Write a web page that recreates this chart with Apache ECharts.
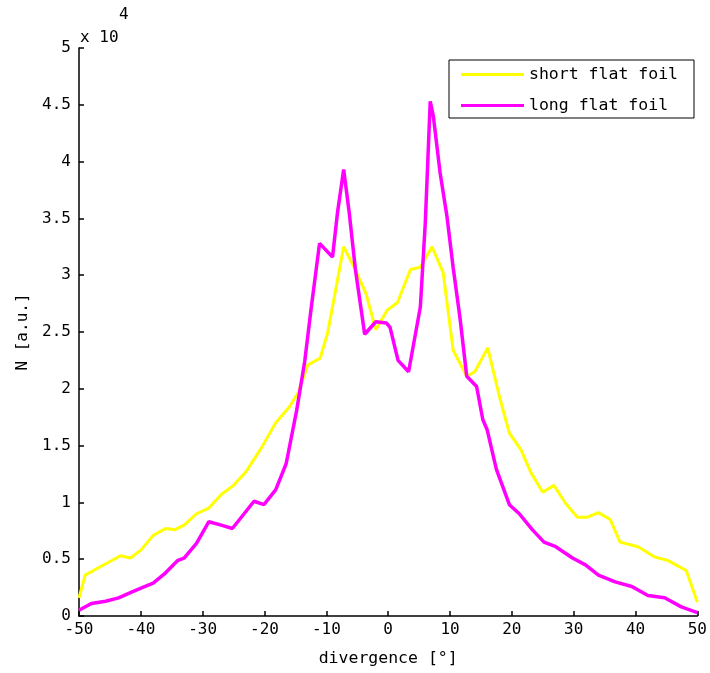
<!DOCTYPE html>
<html>
<head>
<meta charset="utf-8">
<script src="https://cdn.jsdelivr.net/npm/echarts@6/dist/echarts.min.js"></script>
<style>html,body{margin:0;padding:0;background:#fff;}#c{width:710px;height:673px;}</style>
</head>
<body>
<div id="c"></div>
<script>
// divergence [deg] and N [a.u.] in units of 1e4
const shortFlatFoil = [[-50,0.16],[-49,0.36],[-47,0.42],[-45,0.48],[-43.3,0.53],[-41.7,0.51],[-40,0.58],[-38,0.71],[-36,0.77],[-34.5,0.76],[-33,0.80],[-31,0.90],[-29,0.95],[-27,1.07],[-25,1.15],[-23,1.27],[-20.5,1.48],[-18.2,1.70],[-16,1.84],[-14.6,1.96],[-13,2.21],[-11,2.27],[-9.8,2.49],[-8.7,2.81],[-7.2,3.25],[-5.5,3.07],[-3.6,2.84],[-2,2.52],[-0.2,2.69],[1.5,2.76],[3.6,3.05],[5.2,3.07],[7.1,3.25],[8.9,3.02],[10.5,2.34],[12.7,2.11],[14,2.15],[16.1,2.36],[18,1.93],[19.6,1.61],[21.5,1.46],[23.1,1.26],[25,1.09],[26.8,1.15],[28.7,0.99],[30.6,0.87],[32.2,0.87],[34,0.91],[35.9,0.85],[37.5,0.65],[40.4,0.61],[43.1,0.52],[45.2,0.49],[48.2,0.40],[50,0.12]];
const longFlatFoil = [[-50,0.05],[-48,0.11],[-45.7,0.13],[-43.6,0.16],[-41.5,0.21],[-39.3,0.26],[-38,0.29],[-36,0.38],[-34,0.49],[-33,0.51],[-31,0.64],[-29,0.83],[-27,0.80],[-25.2,0.77],[-23.3,0.90],[-21.7,1.01],[-20.1,0.98],[-18.2,1.11],[-16.5,1.34],[-14.8,1.81],[-13.5,2.24],[-12.5,2.69],[-11.1,3.28],[-9,3.16],[-8.2,3.55],[-7.2,3.93],[-6.3,3.55],[-5.3,3.05],[-3.8,2.48],[-2,2.59],[-0.3,2.58],[0.3,2.54],[1.6,2.25],[3.3,2.15],[5.2,2.72],[6,3.46],[6.8,4.53],[7.3,4.40],[8.4,3.90],[9.5,3.52],[10.5,3.07],[11.6,2.63],[12.7,2.11],[14.3,2.02],[15.3,1.73],[16,1.64],[17.5,1.29],[19.6,0.98],[21.2,0.90],[23.3,0.76],[25.2,0.65],[27.1,0.61],[29.8,0.51],[31.9,0.45],[34,0.36],[36.7,0.30],[39.4,0.26],[42,0.18],[44.7,0.16],[47.4,0.08],[50,0.03]];
const seriesNames = ['short flat foil', 'long flat foil'];
const xAxisTitle = 'divergence [°]';
const yAxisTitle = 'N [a.u.]';

const FONT = '"DejaVu Sans Mono", monospace';
const chart = echarts.init(document.getElementById('c'), null, {renderer: 'canvas'});
chart.setOption({
  animation: false,
  backgroundColor: '#fff',
  grid: {left: 79, right: 7, top: 48, bottom: 57, containLabel: false},
  xAxis: {
    type: 'value', min: -50, max: 50, interval: 10,
    name: xAxisTitle, nameLocation: 'middle', nameGap: 34,
    nameTextStyle: {fontFamily: FONT, fontSize: 16.5, color: '#000'},
    axisLine: {show: true, onZero: false, lineStyle: {color: '#000', width: 1.5}},
    axisTick: {show: true, inside: true, length: 5, lineStyle: {color: '#000', width: 1.5}},
    axisLabel: {fontFamily: FONT, fontSize: 16, color: '#000', margin: 6},
    splitLine: {show: false}
  },
  yAxis: {
    type: 'value', min: 0, max: 5, interval: 0.5,
    name: yAxisTitle, nameLocation: 'middle', nameGap: 44,
    nameTextStyle: {fontFamily: FONT, fontSize: 16, color: '#000'},
    axisLine: {show: true, onZero: false, lineStyle: {color: '#000', width: 1.5}},
    axisTick: {show: true, inside: true, length: 5, lineStyle: {color: '#000', width: 1.5}},
    axisLabel: {fontFamily: FONT, fontSize: 16, color: '#000', margin: 8},
    splitLine: {show: false}
  },
  legend: {
    orient: 'vertical', left: 449, top: 60,
    padding: [6, 16, 4, 12], itemGap: 14,
    icon: 'rect', itemWidth: 63, itemHeight: 3,
    borderColor: '#000', borderWidth: 1, backgroundColor: '#fff',
    textStyle: {fontFamily: FONT, fontSize: 16.5, color: '#000'},
    data: seriesNames
  },
  graphic: [
    {type: 'text', left: 80, top: 30, style: {text: 'x 10', font: '16px ' + FONT, fill: '#000'}},
    {type: 'text', left: 119, top: 7, style: {text: '4', font: '16px ' + FONT, fill: '#000'}}
  ],
  series: [
    {name: seriesNames[0], type: 'line', data: shortFlatFoil, symbol: 'none', smooth: false,
     lineStyle: {color: '#ffff00', width: 3}, itemStyle: {color: '#ffff00'}},
    {name: seriesNames[1], type: 'line', data: longFlatFoil, symbol: 'none', smooth: false,
     lineStyle: {color: '#ff00ff', width: 3.5}, itemStyle: {color: '#ff00ff'}}
  ]
});
</script>
</body>
</html>
